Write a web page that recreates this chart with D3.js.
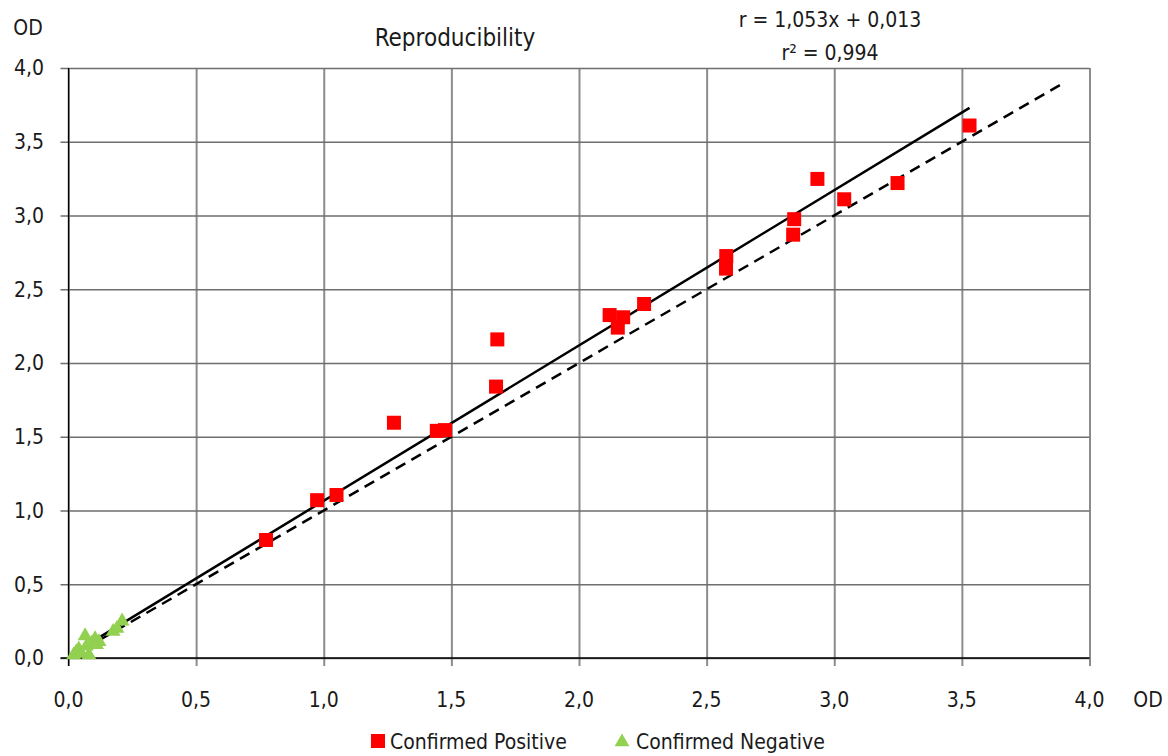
<!DOCTYPE html>
<html>
<head>
<meta charset="utf-8">
<script src="https://cdn.jsdelivr.net/npm/d3@7"></script>
<style>
  html, body { margin: 0; padding: 0; background: #fff; }
  svg text { font-family: "Liberation Sans Narrow", "DejaVu Sans Condensed", "Roboto", sans-serif; fill: #1a1a1a; }
</style>
</head>
<body>
<svg id="chart" width="1168" height="756"></svg>
<script>
// ---- data ----
const positiveX = [0.774, 0.974, 1.050, 1.275, 1.443, 1.475, 1.675, 1.680, 2.120, 2.173, 2.152, 2.255, 2.577, 2.576, 2.843, 2.839, 2.934, 3.039, 3.248, 3.530];
const positiveY = [0.800, 1.070, 1.105, 1.595, 1.540, 1.545, 1.840, 2.160, 2.325, 2.310, 2.240, 2.400, 2.725, 2.640, 2.975, 2.870, 3.248, 3.110, 3.220, 3.610];
const negativeX = [0.020, 0.030, 0.040, 0.050, 0.065, 0.070, 0.080, 0.090, 0.104, 0.110, 0.120, 0.175, 0.190, 0.210];
const negativeY = [0.020, 0.040, 0.060, 0.030, 0.150, 0.080, 0.020, 0.100, 0.130, 0.090, 0.110, 0.180, 0.200, 0.250];
const xTicks = [0, 0.5, 1, 1.5, 2, 2.5, 3, 3.5, 4];
const yTicks = [0, 0.5, 1, 1.5, 2, 2.5, 3, 3.5, 4];
const fitSlope = 1.053, fitIntercept = 0.013, fitXEnd = 3.53;
const identityXEnd = 3.9;
const titleText = "Reproducibility";
const eqLine1 = "r = 1,053x + 0,013";
const eqLine2 = "r² = 0,994";
const axisName = "OD";
const legendLabels = ["Confirmed Positive", "Confirmed Negative"];

// ---- layout ----
const svg = d3.select("#chart");
const x = d3.scaleLinear().domain([0, 4]).range([68.5, 1089.5]);
const y = d3.scaleLinear().domain([0, 4]).range([658, 68]);
const fmt = d => d3.format(".1f")(d).replace(".", ",");

// vertical gridlines (x ticks)
const gx = svg.append("g").attr("transform", `translate(0,${y(0)})`)
  .call(d3.axisBottom(x).tickValues(xTicks).tickSize(-(y(0) - y(4))).tickSizeOuter(0).tickFormat(""));
gx.select(".domain").remove();
gx.selectAll(".tick line").attr("stroke", "#8c8c8c").attr("stroke-width", 2).attr("y1", 8);

// horizontal gridlines (y ticks)
const gy = svg.append("g").attr("transform", `translate(${x(0)},0)`)
  .call(d3.axisLeft(y).tickValues(yTicks).tickSize(-(x(4) - x(0))).tickSizeOuter(0).tickFormat(""));
gy.select(".domain").remove();
gy.selectAll(".tick line").attr("stroke", "#6e6e6e").attr("stroke-width", 1.3).attr("x1", -8);

// axis lines
svg.append("line").attr("x1", x(0)).attr("x2", x(0)).attr("y1", y(4)).attr("y2", y(0) + 8)
  .attr("stroke", "#000").attr("stroke-width", 1.3);
svg.append("line").attr("x1", x(0) - 8).attr("x2", x(4)).attr("y1", y(0)).attr("y2", y(0))
  .attr("stroke", "#000").attr("stroke-width", 1.3);

// tick labels
svg.append("g").selectAll("text").data(yTicks).join("text")
  .attr("x", 44).attr("y", d => y(d)).attr("dy", "0.35em")
  .attr("text-anchor", "end").attr("font-size", 21).text(fmt);
svg.append("g").selectAll("text").data(xTicks).join("text")
  .attr("x", d => x(d)).attr("y", 700).attr("dy", "0.35em")
  .attr("text-anchor", "middle").attr("font-size", 21).text(fmt);

// axis names
svg.append("text").attr("x", 28).attr("y", 28).attr("dy", "0.35em").attr("text-anchor", "middle").attr("font-size", 21).text(axisName);
svg.append("text").attr("x", 1148).attr("y", 700).attr("dy", "0.35em").attr("text-anchor", "middle").attr("font-size", 21).text(axisName);

// title & equation
svg.append("text").attr("x", 455).attr("y", 38).attr("dy", "0.35em").attr("text-anchor", "middle").attr("font-size", 24).text(titleText);
svg.append("text").attr("x", 830).attr("y", 20).attr("dy", "0.35em").attr("text-anchor", "middle").attr("font-size", 21).text(eqLine1);
svg.append("text").attr("x", 830).attr("y", 53).attr("dy", "0.35em").attr("text-anchor", "middle").attr("font-size", 21).text(eqLine2);

// lines
const line = d3.line().x(d => x(d[0])).y(d => y(d[1]));
svg.append("path").datum([[0, 0], [identityXEnd, identityXEnd]])
  .attr("d", line).attr("fill", "none").attr("stroke", "#000").attr("stroke-width", 2.5).attr("stroke-dasharray", "11,7");
svg.append("path").datum([[0, fitIntercept], [fitXEnd, fitSlope * fitXEnd + fitIntercept]])
  .attr("d", line).attr("fill", "none").attr("stroke", "#000").attr("stroke-width", 2.5);

// points
const sq = 14;
svg.append("g").selectAll("rect").data(positiveX.map((v, i) => [v, positiveY[i]])).join("rect")
  .attr("x", d => x(d[0]) - sq / 2).attr("y", d => y(d[1]) - sq / 2)
  .attr("width", sq).attr("height", sq).attr("fill", "#ff0000");
const tri = d3.symbol().type(d3.symbolTriangle).size(95);
svg.append("g").selectAll("path").data(negativeX.map((v, i) => [v, negativeY[i]])).join("path")
  .attr("d", tri).attr("transform", d => `translate(${x(d[0])},${y(d[1])})`).attr("fill", "#92d050");

// legend
svg.append("rect").attr("x", 371).attr("y", 734).attr("width", 14).attr("height", 14).attr("fill", "#ff0000");
svg.append("text").attr("x", 390).attr("y", 742).attr("dy", "0.35em").attr("font-size", 21).text(legendLabels[0]);
svg.append("path").attr("d", tri).attr("transform", "translate(622,742)").attr("fill", "#92d050");
svg.append("text").attr("x", 636).attr("y", 742).attr("dy", "0.35em").attr("font-size", 21).text(legendLabels[1]);
</script>
</body>
</html>
